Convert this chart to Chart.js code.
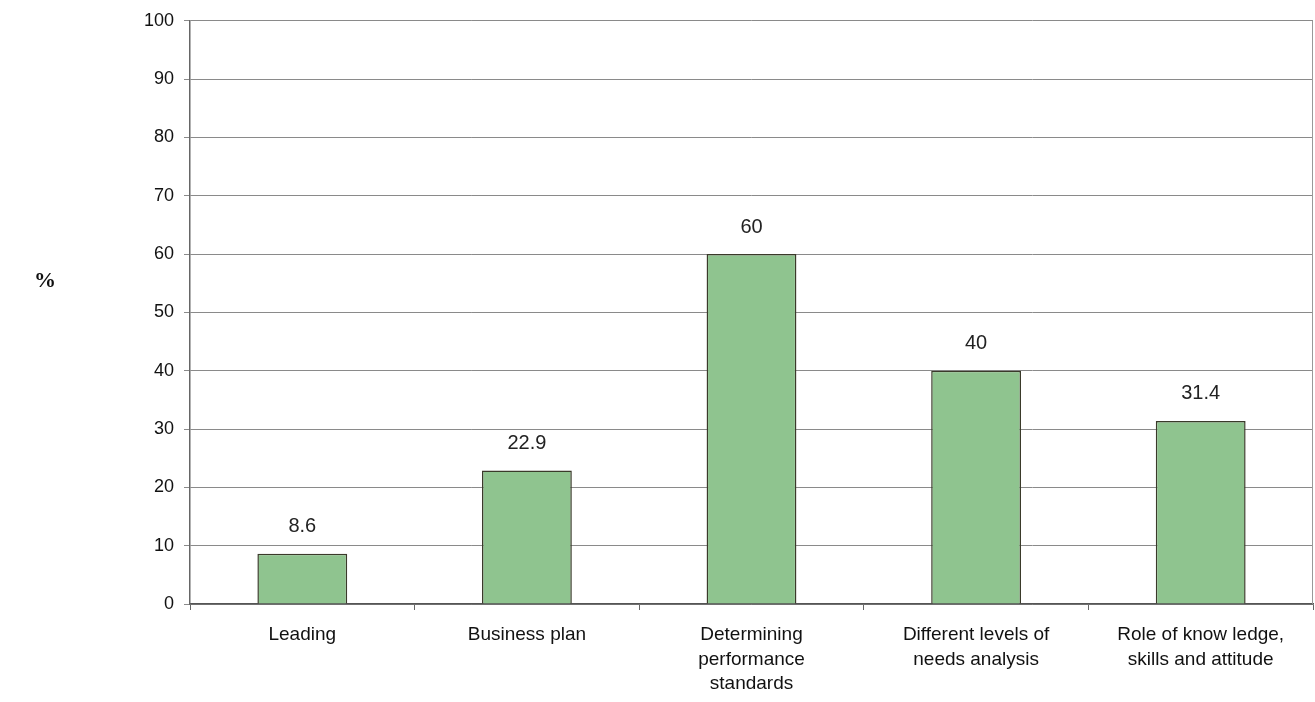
<!DOCTYPE html>
<html>
<head>
<meta charset="utf-8">
<script src="https://cdn.jsdelivr.net/npm/chart.js@4.4.1/dist/chart.umd.min.js"></script>
<style>
  html, body { margin: 0; padding: 0; background: #fff; }
  #wrap { position: relative; width: 1315px; height: 702px; }
</style>
</head>
<body>
<div id="wrap"><canvas id="c" width="1315" height="702"></canvas></div>
<script>
const categories = [
  'Leading',
  'Business plan',
  ['Determining', 'performance', 'standards'],
  ['Different levels of', 'needs analysis'],
  ['Role of know ledge,', 'skills and attitude']
];
const values = [8.6, 22.9, 60, 40, 31.4];
const yTicks = [0, 10, 20, 30, 40, 50, 60, 70, 80, 90, 100];

const FONT = '"Liberation Sans", Arial, sans-serif';

/* Werte über den Balken */
const valueLabels = {
  id: 'valueLabels',
  afterDatasetsDraw(chart) {
    const ctx = chart.ctx;
    const meta = chart.getDatasetMeta(0);
    ctx.save();
    ctx.font = '20px ' + FONT;
    ctx.fillStyle = '#222';
    ctx.textAlign = 'center';
    ctx.textBaseline = 'middle';
    meta.data.forEach((bar, i) => {
      ctx.fillText(String(values[i]), bar.x, bar.y - 27);
    });
    ctx.restore();
  }
};

/* rechter Rand + "%" links */
const frame = {
  id: 'frame',
  beforeDatasetsDraw(chart) {
    const { ctx, chartArea: a } = chart;
    ctx.save();
    ctx.strokeStyle = '#999';
    ctx.lineWidth = 1;
    ctx.beginPath();
    ctx.moveTo(a.right - 0.5, a.top);
    ctx.lineTo(a.right - 0.5, a.bottom);
    ctx.stroke();
    ctx.restore();
  },
  afterDraw(chart) {
    const ctx = chart.ctx;
    ctx.save();
    ctx.font = 'bold 22px "Liberation Serif", "Times New Roman", serif';
    ctx.fillStyle = '#111';
    ctx.textAlign = 'center';
    ctx.textBaseline = 'middle';
    ctx.fillText('%', 45, 281);
    ctx.restore();
  }
};

new Chart(document.getElementById('c'), {
  type: 'bar',
  data: {
    labels: categories,
    datasets: [{
      data: values,
      backgroundColor: '#8fc48f',
      borderColor: '#3a3a2a',
      borderWidth: 1.5,
      barPercentage: 0.4,
      categoryPercentage: 1.0
    }]
  },
  options: {
    responsive: false,
    animation: false,
    layout: { padding: { top: 18, right: 2, left: 0, bottom: 0 } },
    plugins: { legend: { display: false }, tooltip: { enabled: false } },
    scales: {
      x: {
        grid: { display: true, drawOnChartArea: false, offset: true, color: '#666', tickLength: 6 },
        border: { color: '#555', width: 1.5 },
        ticks: {
          color: '#111', padding: 13, maxRotation: 0, autoSkip: false,
          font: { family: FONT, size: 19, lineHeight: 1.28 }
        },
        afterFit(scale) { scale.height = 98; }
      },
      y: {
        min: 0, max: 100,
        afterBuildTicks(scale) { scale.ticks = yTicks.map(v => ({ value: v })); },
        grid: { color: '#8a8a8a', lineWidth: 1, tickLength: 6 },
        border: { color: '#666', width: 1.5 },
        ticks: {
          color: '#111', padding: 10,
          font: { family: FONT, size: 18 }
        },
        afterFit(scale) { scale.width = 190; }
      }
    }
  },
  plugins: [valueLabels, frame]
});
</script>
</body>
</html>
